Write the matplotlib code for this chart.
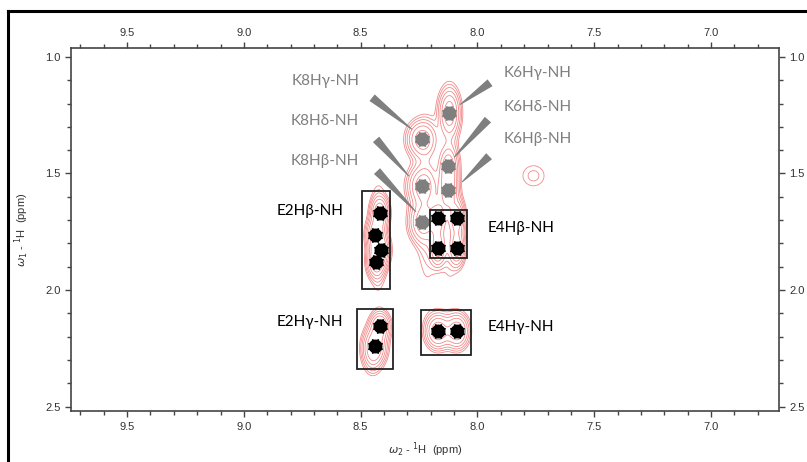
import matplotlib.pyplot as plt
import matplotlib.patches as patches
import numpy as np
from matplotlib.lines import Line2D
from matplotlib.ticker import MultipleLocator

# peak positions (ppm): w2 (x), w1 (y)
k_x = [8.120, 8.237, 8.126, 8.237, 8.126, 8.237]
k_y = [1.240, 1.354, 1.470, 1.554, 1.571, 1.708]
e_x = [8.417, 8.438, 8.413, 8.434, 8.169, 8.087, 8.169, 8.087,
       8.417, 8.438, 8.169, 8.087]
e_y = [1.669, 1.763, 1.827, 1.878, 1.690, 1.690, 1.818, 1.818,
       2.155, 2.240, 2.176, 2.176]

# lineshape components for the contour map: x, y, width x, width y, amplitude
comp_x = k_x + e_x + [7.760, 8.120, 8.215, 8.425, 8.450]
comp_y = k_y + e_y + [1.510, 1.620, 1.640, 1.780, 2.270]
comp_sx = [0.026, 0.036, 0.024, 0.036, 0.024, 0.032,
           0.022, 0.022, 0.022, 0.022, 0.019, 0.019, 0.019, 0.019,
           0.024, 0.028, 0.030, 0.028,
           0.042, 0.024, 0.030, 0.020, 0.024]
comp_sy = [0.060, 0.045, 0.050, 0.050, 0.050, 0.050,
           0.040, 0.040, 0.040, 0.040, 0.045, 0.045, 0.045, 0.045,
           0.035, 0.045, 0.042, 0.042,
           0.040, 0.200, 0.200, 0.130, 0.050]
comp_a = [1.0, 1.0, 0.9, 0.9, 0.9, 0.9,
          1.0, 1.0, 1.0, 1.0, 1.0, 1.0, 1.0, 1.0,
          1.0, 1.0, 1.1, 1.1,
          0.16, 0.30, 0.28, 0.35, 0.5]

# boxes (ppm): x left, x right, y top, y bottom
box_x0 = [8.494, 8.203, 8.515, 8.241]
box_x1 = [8.374, 8.045, 8.361, 8.027]
box_y0 = [1.575, 1.656, 2.083, 2.087]
box_y1 = [1.997, 1.861, 2.338, 2.279]

k_labels = ['K8Hγ-NH', 'K8Hδ-NH', 'K8Hβ-NH', 'K6Hγ-NH', 'K6Hδ-NH', 'K6Hβ-NH']
k_lab_x = [8.652, 8.652, 8.652, 7.741, 7.741, 7.741]
k_lab_y = [1.102, 1.277, 1.448, 1.068, 1.213, 1.354]
e_labels = ['E2Hβ-NH', 'E4Hβ-NH', 'E2Hγ-NH', 'E4Hγ-NH']
e_lab_x = [8.717, 7.813, 8.717, 7.813]
e_lab_y = [1.661, 1.733, 2.138, 2.159]

# pointer wedges: wide end -> tip
wedge_x0 = [8.451, 8.434, 8.430, 7.946, 7.955, 7.950]
wedge_y0 = [1.175, 1.354, 1.490, 1.111, 1.269, 1.426]
wedge_x1 = [8.280, 8.293, 8.263, 8.075, 8.100, 8.066]
wedge_y1 = [1.311, 1.512, 1.665, 1.205, 1.431, 1.537]

GRAY = '#7f7f7f'

fig = plt.figure(figsize=(8.07, 4.62), dpi=100)
ax = fig.add_axes([0.088, 0.110, 0.877, 0.786])

# synthetic spectrum from the peak list
gx = np.arange(6.70, 9.75, 0.003)
gy = np.arange(0.95, 2.53, 0.003)
X, Y = np.meshgrid(gx, gy)
Z = np.zeros_like(X)
for x0, y0, sx, sy, a in zip(comp_x, comp_y, comp_sx, comp_sy, comp_a):
    Z += a * np.exp(-((X - x0) ** 2 / (2 * sx ** 2) + (Y - y0) ** 2 / (2 * sy ** 2)))
levels = np.geomspace(0.09, 0.75, 6)
ax.contour(X, Y, Z, levels=levels, colors='#f28a8a', linewidths=0.6)

# pointer wedges
for x0, y0, x1, y1 in zip(wedge_x0, wedge_y0, wedge_x1, wedge_y1):
    dx, dy = x1 - x0, y1 - y0
    n = np.hypot(dx, dy)
    px, py = -dy / n, dx / n
    w0, w1 = 0.018, 0.002
    poly = [(x0 + px * w0, y0 + py * w0), (x0 - px * w0, y0 - py * w0),
            (x1 - px * w1, y1 - py * w1), (x1 + px * w1, y1 + py * w1)]
    ax.add_patch(patches.Polygon(poly, closed=True, color=GRAY, lw=0, zorder=3))

# markers
for xs, ys, c in [(k_x, k_y, GRAY), (e_x, e_y, 'black')]:
    ax.plot(xs, ys, 'o', ms=9, color=c, zorder=4)
    ax.plot(xs, ys, ls='none', marker=(8, 1, 22.5), ms=11, color=c, zorder=4)

# boxes
for x0, x1, y0, y1 in zip(box_x0, box_x1, box_y0, box_y1):
    ax.add_patch(patches.Rectangle((x1, y0), x0 - x1, y1 - y0, fill=False,
                                   ec='#222222', lw=1.3, zorder=5))

for t, x, y in zip(k_labels, k_lab_x, k_lab_y):
    ax.text(x, y, t, color=GRAY, fontsize=11, family='Lato', ha='center', va='center')
for t, x, y in zip(e_labels, e_lab_x, e_lab_y):
    ax.text(x, y, t, color='black', fontsize=11, family='Lato', ha='center', va='center')

ax.set_xlim(9.74, 6.71)
ax.set_ylim(2.52, 0.962)
ax.xaxis.set_major_locator(MultipleLocator(0.5))
ax.xaxis.set_minor_locator(MultipleLocator(0.1))
ax.yaxis.set_major_locator(MultipleLocator(0.5))
ax.yaxis.set_minor_locator(MultipleLocator(0.1))
ax.xaxis.set_major_formatter(lambda v, p: f'{v:.1f}')
ax.yaxis.set_major_formatter(lambda v, p: f'{v:.1f}')
ax.tick_params(which='both', direction='out', top=True, right=True,
               labeltop=True, labelright=True, color='#444444',
               labelsize=8, labelcolor='#333333', width=1)
ax.tick_params(which='major', length=4)
ax.tick_params(which='minor', length=3)
for s in ax.spines.values():
    s.set_color('#444444')
    s.set_linewidth(1.2)
for lab in ax.get_xticklabels() + ax.get_yticklabels():
    lab.set_family('Liberation Sans')

ax.set_xlabel(r'$\omega_2$ - $^1$H  (ppm)', fontsize=8, color='#333333',
              family='Liberation Sans', labelpad=6)
ax.set_ylabel(r'$\omega_1$ - $^1$H  (ppm)', fontsize=8, color='#333333',
              family='Liberation Sans', labelpad=10)

# partial outer frame
fig.add_artist(Line2D([0.010, 1.0], [1 - 11 / 462, 1 - 11 / 462], color='black', lw=2.2))
fig.add_artist(Line2D([8 / 807, 8 / 807], [0.0, 1 - 11 / 462], color='black', lw=2.2))

fig.savefig('out.png', dpi=100)
